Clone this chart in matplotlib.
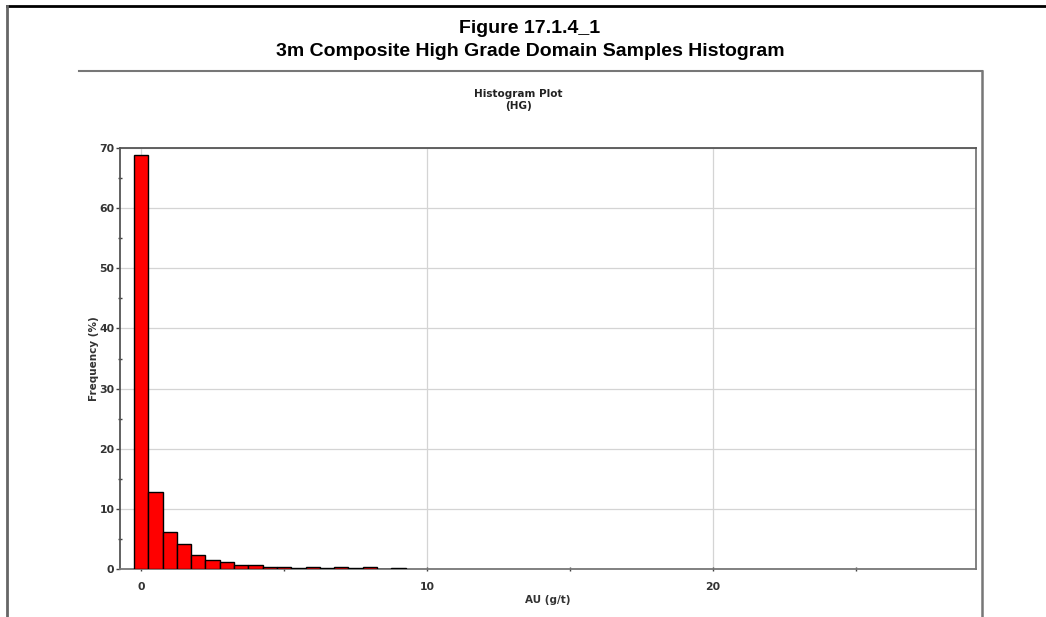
import matplotlib
matplotlib.use("Agg")
import matplotlib.pyplot as plt
from matplotlib.lines import Line2D
from matplotlib.ticker import MultipleLocator

# histogram bins (AU g/t, bin centres) and frequency (%)
bin_centers = [0.0, 0.5, 1.0, 1.5, 2.0, 2.5, 3.0, 3.5, 4.0, 4.5,
               5.0, 5.5, 6.0, 6.5, 7.0, 7.5, 8.0, 8.5, 9.0]
frequency = [68.9, 12.75, 6.1, 4.1, 2.4, 1.45, 1.1, 0.7, 0.6, 0.4,
             0.35, 0.1, 0.3, 0.1, 0.3, 0.1, 0.3, 0.0, 0.1]
bin_width = 0.5

fig_title = "Figure 17.1.4_1\n3m Composite High Grade Domain Samples Histogram"
plot_title = "Histogram Plot\n(HG)"

W, H = 1046, 617
fig = plt.figure(figsize=(W / 100, H / 100), dpi=100)
fig.patch.set_facecolor("white")

# outer frame lines
fig.add_artist(Line2D([7 / W, 1], [1 - 6 / H, 1 - 6 / H], color="black", lw=2))
fig.add_artist(Line2D([7 / W, 7 / W], [0, 1 - 6 / H], color="#666666", lw=2))
# inner panel frame
fig.add_artist(Line2D([79 / W, 982 / W], [1 - 71 / H, 1 - 71 / H], color="#777777", lw=1.5))
fig.add_artist(Line2D([982 / W, 982 / W], [0, 1 - 71 / H], color="#777777", lw=1.8))

fig.text(530 / W, 1 - 40 / H, fig_title, ha="center", va="center",
         fontsize=14, fontweight="bold", family="Liberation Sans", linespacing=1.45)
fig.text(518 / W, 1 - 100 / H, plot_title, ha="center", va="center",
         fontsize=7.5, fontweight="bold", color="#222222", family="DejaVu Sans")

ax = fig.add_axes([120 / W, 48 / H, 856 / W, 421 / H])
ax.bar(bin_centers, frequency, width=bin_width, color="#ff0000",
       edgecolor="black", linewidth=1, zorder=3)

ax.set_xlim(-0.74, 29.2)
ax.set_ylim(0, 70)
ax.xaxis.set_major_locator(MultipleLocator(10))
ax.xaxis.set_minor_locator(MultipleLocator(5))
ax.yaxis.set_major_locator(MultipleLocator(10))
ax.yaxis.set_minor_locator(MultipleLocator(5))
ax.grid(True, which="major", color="#d4d4d4", lw=0.9, zorder=0)

ax.tick_params(axis="y", which="major", direction="out", length=3, width=1,
               color="#444444", pad=1)
ax.tick_params(axis="y", which="minor", direction="inout", length=3, width=1,
               color="#444444")
ax.tick_params(axis="x", which="both", direction="inout", length=3, width=1,
               color="#444444", pad=8)
for lbl in ax.get_xticklabels() + ax.get_yticklabels():
    lbl.set_fontweight("bold")
    lbl.set_fontsize(7.8)
    lbl.set_color("#333333")

for side in ["top", "left"]:
    ax.spines[side].set_color("#555555")
    ax.spines[side].set_linewidth(1.3)
for side in ["right", "bottom"]:
    ax.spines[side].set_color("#777777")
    ax.spines[side].set_linewidth(1.3)

ax.set_xlabel("AU (g/t)", fontsize=7.5, fontweight="bold", color="#333333", labelpad=2)
ax.set_ylabel("Frequency (%)", fontsize=7.5, fontweight="bold", color="#333333", labelpad=0)

fig.savefig("out.png", dpi=100)
